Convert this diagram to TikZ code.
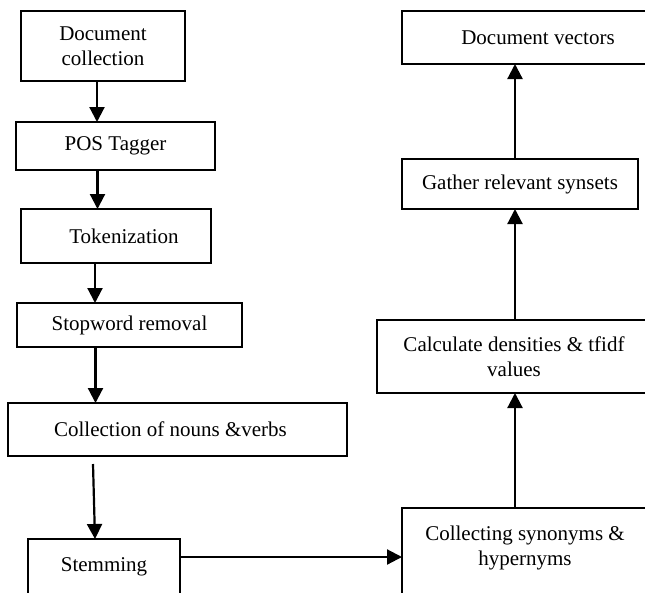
\documentclass[tikz,border=0pt]{standalone}
\usepackage{fontspec}
\setmainfont{Liberation Serif}
\usetikzlibrary{arrows.meta}
\tikzset{
  box/.style={draw=black, line width=1.2pt, inner sep=0pt, outer sep=0pt,
    anchor=north west, align=center, font=\fontsize{21}{25}\selectfont},
  arr/.style={line width=2.2pt, -{Triangle[width=15pt,length=15pt]}}
}
\begin{document}
\begin{tikzpicture}[x=1pt,y=-1pt]
\useasboundingbox (0,0) rectangle (645,592);
\clip (0,0) rectangle (645,592);
\fill[white] (0,0) rectangle (645,592);
% left column
\node[box, minimum width=164pt, minimum height=70pt] (A) at (21,11) {Document\\collection};
\node[box, minimum width=199pt, minimum height=48pt] (B) at (16,122) {POS Tagger};
\node[box, minimum width=190pt, minimum height=54pt] (C) at (21,209) {\hspace*{16pt}Tokenization};
\node[box, minimum width=225pt, minimum height=44pt] (D) at (17,303) {Stopword removal};
\node[box, minimum width=339pt, minimum height=53pt] (E) at (8,403) {Collection of nouns \&verbs\hspace*{14pt}};
\node[box] (F) at (28,539) {\begin{minipage}[t][70pt][t]{152pt}\centering\vspace*{19pt}Stemming\end{minipage}};
% right column
\node[box] (G) at (402,508) {\begin{minipage}[t][100pt][t]{246pt}\centering\vspace*{18pt}Collecting synonyms \&\\hypernyms\end{minipage}};
\node[box, minimum width=274pt, minimum height=73pt] (H) at (377,320) {Calculate densities \& tfidf\\values};
\node[box, minimum width=236pt, minimum height=50pt] (I) at (402,159) {Gather relevant synsets};
\node[box, minimum width=272pt, minimum height=53pt] (J) at (402,11) {Document vectors};
% connectors
\draw[arr] ([xshift=-6pt]A.south) -- ([xshift=-6pt]A.south |- B.north);
\draw[arr] ([xshift=-18pt]B.south) -- ([xshift=-18pt]B.south |- C.north);
\draw[arr] ([xshift=-21pt]C.south) -- ([xshift=-21pt]C.south |- D.north);
\draw[arr] ([xshift=-34pt]D.south) -- ([xshift=-34pt]D.south |- E.north);
\coordinate (e1) at (93,464);
\draw[arr] (e1) -- ([xshift=-9pt]F.north);
\coordinate (h) at (0,557);
\draw[arr] (F.east |- h) -- (G.west |- h);
\coordinate (r) at (515,0);
\draw[arr] (G.north -| r) -- (H.south -| r);
\draw[arr] (H.north -| r) -- (I.south -| r);
\draw[arr] (I.north -| r) -- (J.south -| r);
\end{tikzpicture}
\end{document}
